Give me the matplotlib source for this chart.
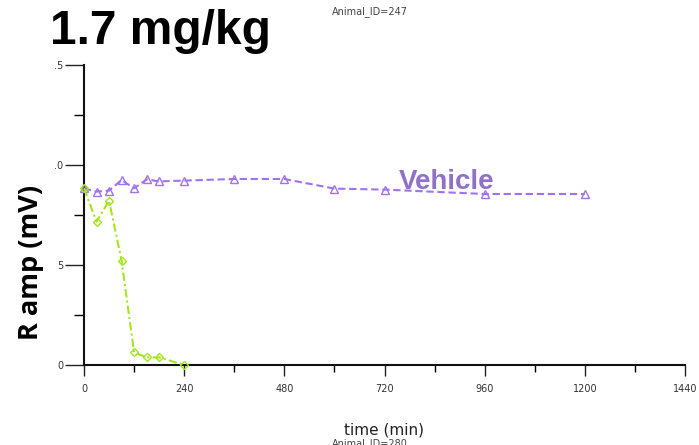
import matplotlib
matplotlib.use("Agg")
import matplotlib.pyplot as plt
from matplotlib.ticker import MultipleLocator, FixedLocator

# Time points (min) and R amplitude (mV)
vehicle_t = [0, 30, 60, 90, 120, 150, 180, 240, 360, 480, 600, 720, 960, 1200]
vehicle_r = [0.883, 0.867, 0.872, 0.925, 0.883, 0.928, 0.918, 0.922, 0.930, 0.930,
             0.882, 0.877, 0.855, 0.855]

drug_t = [0, 30, 60, 90, 120, 150, 180, 240]
drug_r = [0.883, 0.717, 0.822, 0.522, 0.063, 0.038, 0.038, 0.0]

x_ticks = [0, 240, 480, 720, 960, 1200, 1440]
y_ticks = [0.0, 0.5, 1.0, 1.5]
y_tick_labels = ["0", "5", ".0", ".5"]

fig = plt.figure(figsize=(6.99, 4.45), dpi=100)
ax = fig.add_axes([84 / 699, 1 - 365 / 445, 601 / 699, 300 / 445])

purple = "#9f73ef"
green = "#a4e61c"

ax.plot(vehicle_t, vehicle_r, color=purple, linestyle=(0, (3.5, 1.8)), linewidth=1.5,
        marker="^", markersize=5.5, markerfacecolor="none", markeredgecolor=purple,
        markeredgewidth=1.0, clip_on=False, zorder=3)
ax.plot(drug_t, drug_r, color=green, linestyle=(0, (4, 1.5, 1, 1.5)), linewidth=1.5,
        marker="D", markersize=4.5, markerfacecolor="none", markeredgecolor=green,
        markeredgewidth=1.0, clip_on=False, zorder=3)

ax.set_xlim(0, 1440)
ax.set_ylim(0, 1.5)
ax.xaxis.set_major_locator(FixedLocator(x_ticks))
ax.xaxis.set_minor_locator(MultipleLocator(120))
ax.yaxis.set_major_locator(FixedLocator(y_ticks))
ax.yaxis.set_minor_locator(MultipleLocator(0.25))
ax.set_xticklabels([str(t) for t in x_ticks])
ax.set_yticklabels(y_tick_labels)

for side in ("top", "right"):
    ax.spines[side].set_visible(False)
for side in ("left", "bottom"):
    ax.spines[side].set_linewidth(1.5)
    ax.spines[side].set_color("#111111")

ax.tick_params(axis="x", which="major", direction="out", length=8, width=1, pad=6,
               labelsize=7, colors="#222222")
ax.tick_params(axis="x", which="minor", direction="out", length=5, width=1)
ax.tick_params(axis="y", which="major", direction="out", length=14, width=1, pad=1,
               labelsize=7, colors="#222222")
ax.tick_params(axis="y", which="minor", direction="out", length=7, width=1)
for lbl in ax.get_xticklabels() + ax.get_yticklabels():
    lbl.set_family("DejaVu Sans")
    lbl.set_color("#333333")

ax.text(868, 0.915, "Vehicle", color="#9070c8", fontsize=20, fontweight="bold",
        family="Liberation Sans", ha="center", va="center")

fig.text(50 / 699, 1 - 32 / 445, "1.7 mg/kg", fontsize=34.5, fontweight="bold",
         family="Liberation Sans", ha="left", va="center", color="black")
fig.text(370 / 699, 1 - 12 / 445, "Animal_ID=247", fontsize=7, family="DejaVu Sans",
         ha="center", va="center", color="#444444")
fig.text(31 / 699, 1 - 262 / 445, "R amp (mV)", fontsize=19.5, fontweight="bold",
         family="Open Sans", rotation=90, ha="center", va="center", color="black")
fig.text(384 / 699, 1 - 430 / 445, "time (min)", fontsize=11, family="DejaVu Sans",
         ha="center", va="center", color="#222222")
fig.text(370 / 699, 1 - 444 / 445, "Animal_ID=280", fontsize=7, family="DejaVu Sans",
         ha="center", va="center", color="#444444")

fig.savefig("out.png", dpi=100)
